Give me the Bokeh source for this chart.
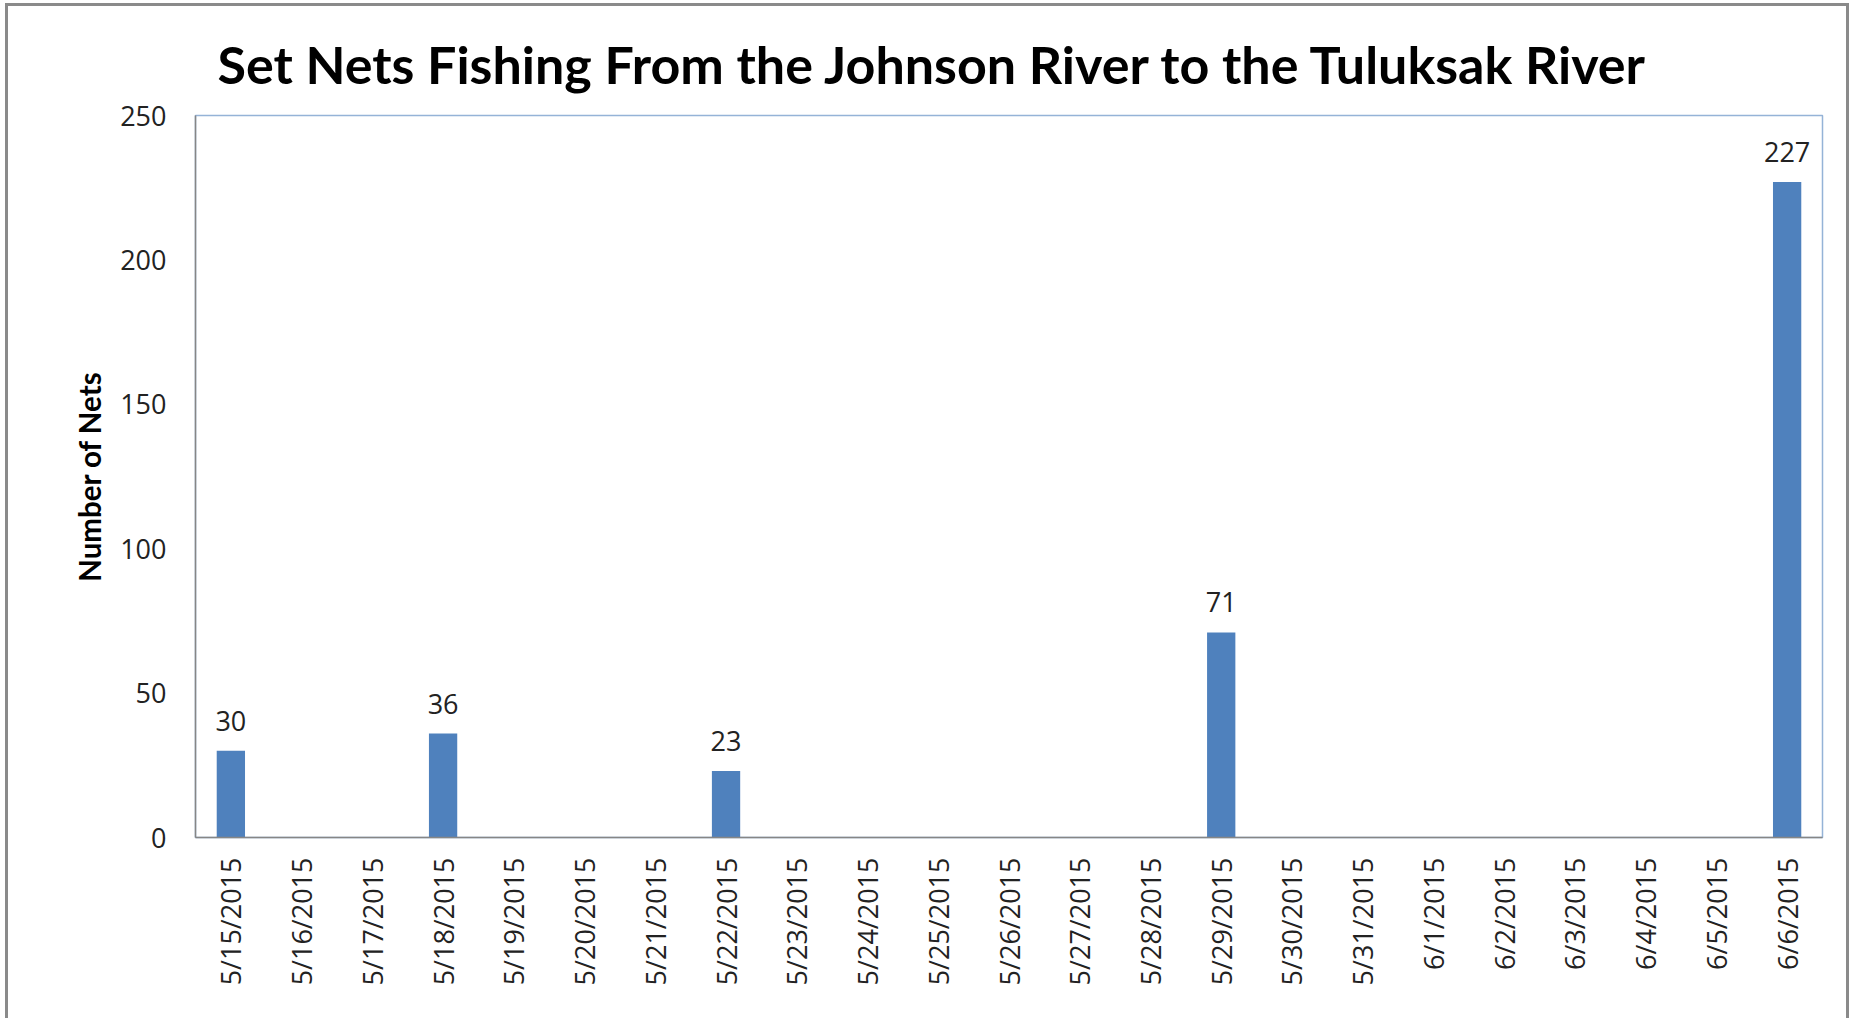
from bokeh.plotting import figure
from bokeh.models import ColumnDataSource, FactorRange, Range1d, FixedTicker, Title
from bokeh.core.properties import value
from bokeh.embed import file_html
from bokeh.resources import INLINE
import math

# ---- data ----
dates = ["5/15/2015", "5/16/2015", "5/17/2015", "5/18/2015", "5/19/2015", "5/20/2015",
         "5/21/2015", "5/22/2015", "5/23/2015", "5/24/2015", "5/25/2015", "5/26/2015",
         "5/27/2015", "5/28/2015", "5/29/2015", "5/30/2015", "5/31/2015", "6/1/2015",
         "6/2/2015", "6/3/2015", "6/4/2015", "6/5/2015", "6/6/2015"]
nets = [30, None, None, 36, None, None, None, 23, None, None, None, None,
        None, None, 71, None, None, None, None, None, None, None, 227]
y_ticks = [0, 50, 100, 150, 200, 250]
title_text = "Set Nets Fishing From the Johnson River to the Tuluksak River"
y_label = "Number of Nets"

bar_x = [d for d, v in zip(dates, nets) if v is not None]
bar_y = [v for v in nets if v is not None]
src = ColumnDataSource(dict(x=bar_x, top=bar_y, lbl=[str(v) for v in bar_y]))

TFONT = "Lato"
FONT = "Open Sans"

W, H = 1838, 1012
p = figure(
    x_range=FactorRange(*dates, range_padding=0),
    y_range=Range1d(0, 250),
    width=W, height=H,
    frame_width=1627, frame_height=722,
    min_border_left=187, min_border_right=24, min_border_top=109, min_border_bottom=181,
    output_backend="svg", toolbar_location=None,
)
p.styles = {"border": "3px solid #8a8a8a", "border-bottom": "none",
            "margin-left": "5px", "margin-top": "3px"}

p.title = Title(text=title_text, align="left", offset=22,
                text_font=TFONT, text_font_size="52px", text_font_style="bold",
                text_color="#000000", standoff=42)

p.vbar(x="x", top="top", width=0.4, source=src, fill_color="#4F81BD", line_color=None)
p.text(x="x", y="top", text="lbl", source=src, text_align="center",
       text_baseline="alphabetic", y_offset=-30, text_font=value(FONT),
       text_font_size="27px", text_color="#222222")

p.xgrid.visible = False
p.ygrid.visible = False
p.outline_line_color = "#95B3D7"
p.outline_line_width = 1.5
p.background_fill_color = "white"
p.border_fill_color = "white"

p.yaxis.ticker = FixedTicker(ticks=y_ticks)
p.yaxis.axis_label = y_label
p.yaxis.axis_label_text_font = TFONT
p.yaxis.axis_label_text_font_size = "29.5px"
p.yaxis.axis_label_text_font_style = "bold"
p.yaxis.axis_label_text_color = "#000000"
p.yaxis.axis_label_standoff = 10

for ax in (p.xaxis[0], p.yaxis[0]):
    ax.axis_line_color = "#868686"
    ax.axis_line_width = 1.5
    ax.major_tick_line_color = None
    ax.minor_tick_line_color = None
    ax.major_tick_out = 0
    ax.major_tick_in = 0
    ax.major_label_text_font = FONT
    ax.major_label_text_font_size = "27px"
    ax.major_label_text_color = "#222222"

p.yaxis.major_label_standoff = 29
p.xaxis.major_label_standoff = 20
p.xaxis.major_label_orientation = math.pi / 2
p.xaxis.group_text_font_size = "0px"

open("out.html", "w").write(file_html(p, INLINE))
